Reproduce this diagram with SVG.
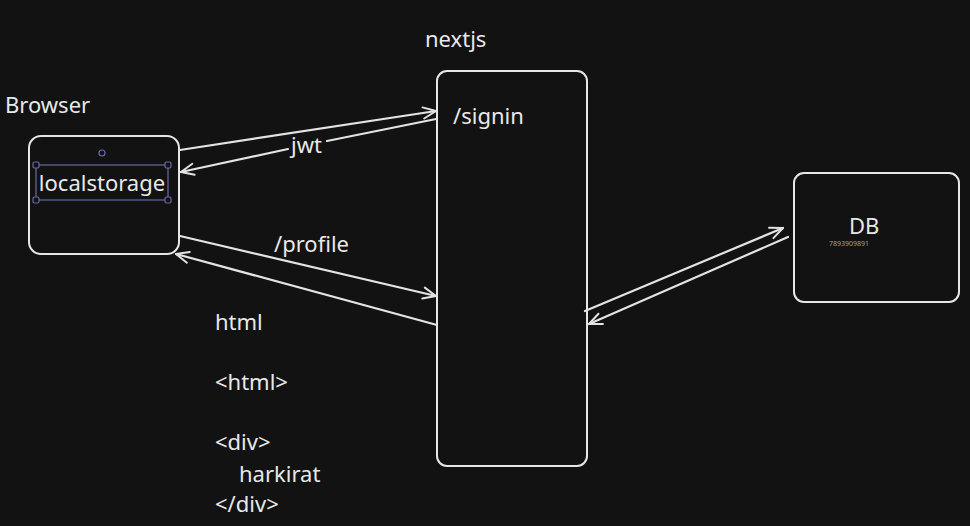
<svg xmlns="http://www.w3.org/2000/svg" width="970" height="526" viewBox="0 0 970 526">
<defs>
<style>
.bg{fill:#121212}
.box{fill:none;stroke:#e6e6e6;stroke-width:2}
.ln{fill:none;stroke:#e3e3e3;stroke-width:2.2;stroke-linecap:round}
.t{font-family:"Noto Sans","Open Sans",sans-serif;font-size:22px;fill:#e8e8e8}
.sel{fill:none;stroke:#6a6aa8;stroke-width:1.2}
.h{fill:#121212;stroke:#6a6aa8;stroke-width:1.2}
</style>
<marker id="ah" viewBox="0 0 20 20" refX="18" refY="10" markerWidth="16" markerHeight="16" markerUnits="userSpaceOnUse" orient="auto">
<path d="M2 3 L18 10 L2 17" fill="none" stroke="#e3e3e3" stroke-width="2.4" stroke-linecap="round" stroke-linejoin="round"/>
</marker>
</defs>
<rect class="bg" x="0" y="0" width="970" height="526"/>
<g id="browser">
<text class="t" x="5" y="113">Browser</text>
<rect class="box" x="29" y="136" width="150" height="118" rx="12"/>
<rect class="sel" x="36" y="165" width="132" height="35"/>
<circle class="h" cx="102" cy="153" r="3"/>
<rect class="h" x="33" y="162" width="6" height="6" rx="1.5"/>
<rect class="h" x="165" y="162" width="6" height="6" rx="1.5"/>
<rect class="h" x="33" y="197" width="6" height="6" rx="1.5"/>
<rect class="h" x="165" y="197" width="6" height="6" rx="1.5"/>
<text class="t" x="102" y="191" text-anchor="middle">localstorage</text>
</g>
<g id="nextjs">
<text class="t" x="425" y="47">nextjs</text>
<rect class="box" x="437" y="71" width="150" height="395" rx="10"/>
<text class="t" x="453" y="124">/signin</text>
</g>
<g id="db">
<rect class="box" x="794" y="173" width="165" height="129" rx="10"/>
<text class="t" x="849" y="234">DB</text>
<text x="829" y="246" style="font-family:'Noto Sans',sans-serif;font-size:7px;fill:#a0a0a0">7893909891</text>
</g>
<g id="connectors">
<line class="ln" x1="180" y1="150" x2="436" y2="111" marker-end="url(#ah)"/>
<path class="ln" d="M436 119 L327 141 M288 149 L181 172" marker-end="url(#ah)"/>
<text class="t" x="291" y="153">jwt</text>
<line class="ln" x1="180" y1="236" x2="436" y2="296" marker-end="url(#ah)"/>
<text class="t" x="274" y="252">/profile</text>
<line class="ln" x1="437" y1="325" x2="176" y2="254" marker-end="url(#ah)"/>
<line class="ln" x1="585" y1="311" x2="783" y2="228" marker-end="url(#ah)"/>
<line class="ln" x1="788" y1="237" x2="589" y2="324" marker-end="url(#ah)"/>
</g>
<g id="html-text">
<text class="t" x="215" y="330">html</text>
<text class="t" x="215" y="390">&lt;html&gt;</text>
<text class="t" x="215" y="450">&lt;div&gt;</text>
<text class="t" x="239" y="482">harkirat</text>
<text class="t" x="215" y="512">&lt;/div&gt;</text>
</g>
</svg>
